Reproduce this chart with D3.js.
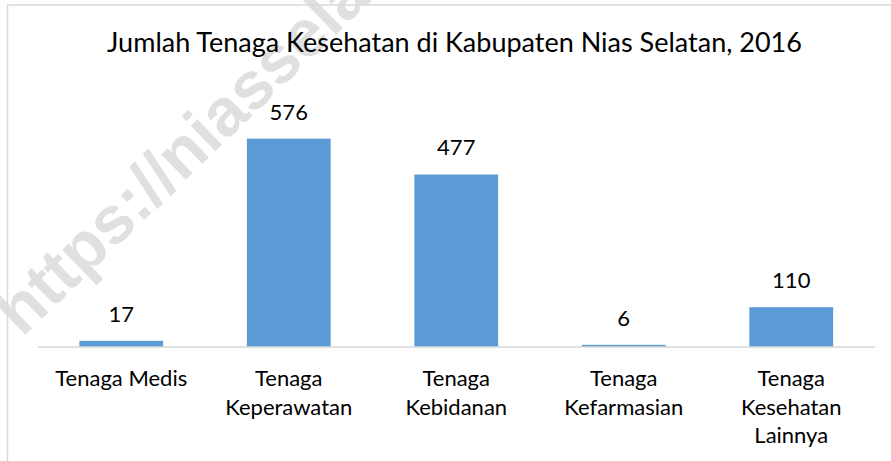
<!DOCTYPE html>
<html>
<head>
<meta charset="utf-8">
<script src="https://cdn.jsdelivr.net/npm/d3@7"></script>
<style>
  body { margin: 0; background: #fff; }
  text { font-family: Lato, "Open Sans", sans-serif; fill: #000; }
</style>
</head>
<body>
<div id="container"></div>
<script>
/* CONSTANTS AND GLOBALS */
const width = 891,
      height = 461,
      margin = {top: 130, left: 37.5, bottom: 114, right: 16};

/* DATA */
const categories = ["Tenaga Medis", "Tenaga Keperawatan", "Tenaga Kebidanan", "Tenaga Kefarmasian", "Tenaga Kesehatan Lainnya"];
const labelLines = [["Tenaga Medis"], ["Tenaga", "Keperawatan"], ["Tenaga", "Kebidanan"], ["Tenaga", "Kefarmasian"], ["Tenaga", "Kesehatan", "Lainnya"]];
const values = [17, 576, 477, 6, 110];
const yMax = 600;
const title = "Jumlah Tenaga Kesehatan di Kabupaten Nias Selatan, 2016";
const watermark = "https://niasselatankab.bps.go.id";

const data = categories.map((c, i) => ({cat: c, value: values[i], lines: labelLines[i]}));

/* SCALES */
const xScale = d3.scaleBand()
  .domain(categories)
  .range([margin.left, width - margin.right])
  .paddingInner(0.5)
  .paddingOuter(0.25)

const yScale = d3.scaleLinear()
  .domain([0, yMax])
  .range([height - margin.bottom, margin.top])

/* HTML ELEMENTS */
const svg = d3.select("#container")
  .append("svg")
  .attr("width", width)
  .attr("height", height)
  .style("background-color", "#fff")

// watermark behind everything (cut by the top edge, like the original)
svg.append("text")
  .attr("transform", "translate(22,338) rotate(-44)")
  .style("font-family", "'Liberation Sans', Arial, sans-serif")
  .style("font-weight", "bold")
  .style("font-size", "67px")
  .style("fill", "#e0e0e0")
  .text(watermark)

// chart border (top + left visible)
svg.append("path")
  .attr("d", `M7.5,${height} V5 H${width}`)
  .attr("fill", "none")
  .attr("stroke", "#d9d9d9")
  .attr("stroke-width", 1.5)

svg.append("text")
  .attr("x", 454.5)
  .attr("y", 52)
  .attr("text-anchor", "middle")
  .style("font-size", "27px")
  .text(title)

svg.selectAll(".bar")
  .data(data)
  .join("rect")
  .attr("class", "bar")
  .attr("x", d => xScale(d.cat))
  .attr("width", xScale.bandwidth())
  .attr("y", d => yScale(d.value))
  .attr("height", d => yScale(0) - yScale(d.value))
  .style("fill", "#5b9bd5")

// baseline
svg.append("line")
  .attr("x1", margin.left)
  .attr("x2", width - margin.right)
  .attr("y1", yScale(0))
  .attr("y2", yScale(0))
  .attr("stroke", "#d9d9d9")
  .attr("stroke-width", 1.5)

svg.selectAll(".val")
  .data(data)
  .join("text")
  .attr("class", "val")
  .attr("x", d => xScale(d.cat) + xScale.bandwidth() / 2)
  .attr("y", d => yScale(d.value) - 19)
  .attr("text-anchor", "middle")
  .style("font-size", "22px")
  .text(d => d.value)

const cats = svg.selectAll(".cat")
  .data(data)
  .join("text")
  .attr("class", "cat")
  .attr("text-anchor", "middle")
  .style("font-size", "22px")

cats.selectAll("tspan")
  .data(d => d.lines.map(l => ({l, x: xScale(d.cat) + xScale.bandwidth() / 2})))
  .join("tspan")
  .attr("x", d => d.x)
  .attr("y", (d, i) => 386 + i * 28.5)
  .text(d => d.l)
</script>
</body>
</html>
